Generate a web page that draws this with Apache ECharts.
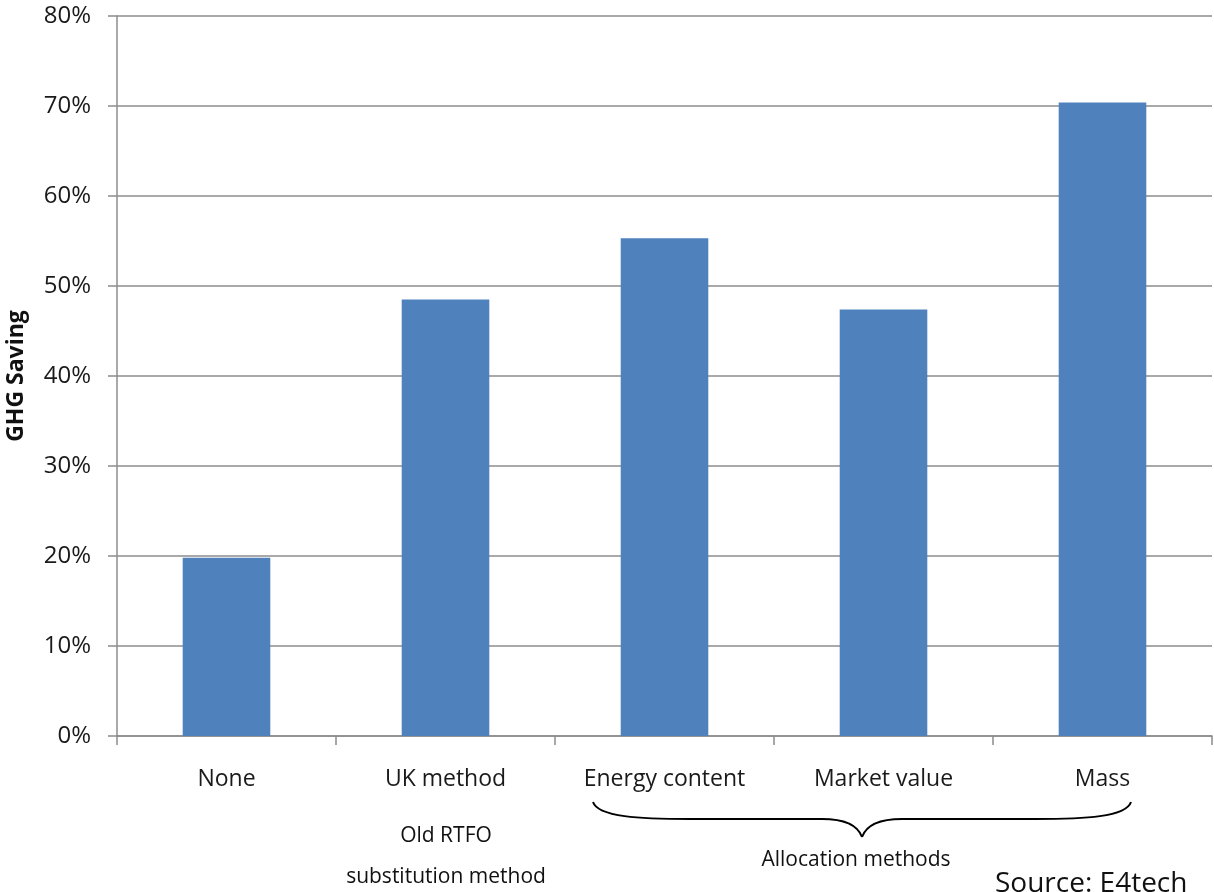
<!DOCTYPE html>
<html>
<head>
<meta charset="utf-8">
<script src="https://cdn.jsdelivr.net/npm/echarts@6/dist/echarts.min.js"></script>
<style>
  html, body { margin: 0; padding: 0; background: #ffffff; }
  #chart { width: 1214px; height: 892px; }
</style>
</head>
<body>
<div id="chart"></div>
<script>
// Allocation approaches compared
const categories = ['None', 'UK method', 'Energy content', 'Market value', 'Mass'];
// GHG saving for each approach, in percent
const ghgSaving = [19.8, 48.5, 55.3, 47.4, 70.4];
// Value axis range and step, in percent
const axisMin = 0;
const axisMax = 80;
const axisStep = 10;

const FONT = '"Open Sans", "Noto Sans", sans-serif';
const GRID_COLOR = '#8c8c8c';
const braceStyle = { fill: 'none', stroke: '#000000', lineWidth: 2 };

function curve(x1, y1, c1x, c1y, c2x, c2y, x2, y2) {
  return {
    type: 'bezierCurve',
    shape: { x1: x1, y1: y1, cpx1: c1x, cpy1: c1y, cpx2: c2x, cpy2: c2y, x2: x2, y2: y2 },
    style: braceStyle
  };
}
function segment(x1, y1, x2, y2) {
  return { type: 'line', shape: { x1: x1, y1: y1, x2: x2, y2: y2 }, style: braceStyle };
}
function label(x, y, text, size) {
  return {
    type: 'text',
    style: { x: x, y: y, text: text, fontFamily: FONT, fontSize: size, fill: '#111111', align: 'center', verticalAlign: 'middle' }
  };
}

const chart = echarts.init(document.getElementById('chart'), null, { renderer: 'canvas' });

chart.setOption({
  backgroundColor: '#ffffff',
  animation: false,
  grid: { left: 117, right: 2, top: 16, bottom: 156, containLabel: false, outerBoundsMode: 'none' },
  xAxis: {
    type: 'category',
    data: categories,
    axisLine: { show: true, lineStyle: { color: GRID_COLOR, width: 1.5 } },
    axisTick: { show: true, interval: 0, length: 9, lineStyle: { color: GRID_COLOR, width: 1.5 } },
    axisLabel: { interval: 0, hideOverlap: false, margin: 32, fontFamily: FONT, fontSize: 23, color: '#1a1a1a' },
    splitLine: { show: false }
  },
  yAxis: {
    type: 'value',
    min: axisMin,
    max: axisMax,
    interval: axisStep,
    name: 'GHG Saving',
    nameLocation: 'middle',
    nameGap: 89,
    nameRotate: 90,
    nameTextStyle: { fontFamily: FONT, fontSize: 23, fontWeight: 'bold', color: '#111111' },
    axisLine: { show: true, lineStyle: { color: GRID_COLOR, width: 1.5 } },
    axisTick: { show: true, length: 9, lineStyle: { color: GRID_COLOR, width: 1.5 } },
    axisLabel: { margin: 26, fontFamily: FONT, fontSize: 24, color: '#1a1a1a', formatter: '{value}%' },
    splitLine: { show: true, lineStyle: { color: GRID_COLOR, width: 1.5 } }
  },
  series: [{
    type: 'bar',
    data: ghgSaving,
    barWidth: '40%',
    itemStyle: { color: '#4f81bd' }
  }],
  graphic: [
    // curly brace grouping the allocation methods
    curve(593, 802, 598, 817, 640, 819, 690, 819),
    segment(690, 819, 822, 819),
    curve(822, 819, 846, 819, 858, 826, 862, 837),
    curve(862, 837, 866, 826, 878, 819, 902, 819),
    segment(902, 819, 1035, 819),
    curve(1035, 819, 1085, 819, 1126, 817, 1131, 802),
    label(446, 836, 'Old RTFO', 21),
    label(446, 877, 'substitution method', 21),
    label(856, 860, 'Allocation methods', 21),
    {
      type: 'text',
      style: { x: 995, y: 884, text: 'Source: E4tech', fontFamily: FONT, fontSize: 28, fill: '#111111', align: 'left', verticalAlign: 'middle' }
    }
  ]
});
</script>
</body>
</html>
